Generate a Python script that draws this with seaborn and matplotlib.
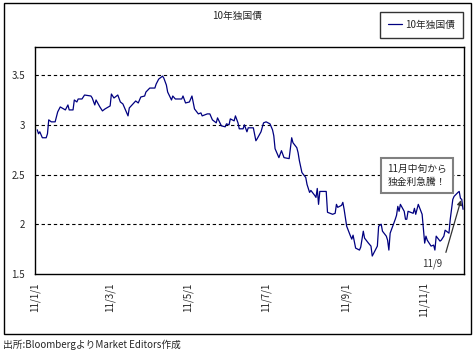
import pandas as pd
import seaborn as sns
import matplotlib.pyplot as plt
import matplotlib.dates as mdates
from matplotlib.patches import Rectangle

# 10年独国債利回り(%) - チャートから読み取り
dates = [
    "2011-01-03", "2011-01-04", "2011-01-05", "2011-01-07", "2011-01-10", "2011-01-11",
    "2011-01-12", "2011-01-14", "2011-01-17", "2011-01-19", "2011-01-21", "2011-01-25",
    "2011-01-27", "2011-01-28", "2011-01-31", "2011-02-01", "2011-02-03", "2011-02-04",
    "2011-02-07", "2011-02-09", "2011-02-14", "2011-02-15", "2011-02-17", "2011-02-18",
    "2011-02-21", "2011-02-23", "2011-02-25", "2011-03-01", "2011-03-02", "2011-03-04",
    "2011-03-07", "2011-03-09", "2011-03-11", "2011-03-15", "2011-03-16", "2011-03-21",
    "2011-03-23", "2011-03-25", "2011-03-28", "2011-03-29", "2011-04-01", "2011-04-05",
    "2011-04-06", "2011-04-08", "2011-04-11", "2011-04-12", "2011-04-14", "2011-04-15",
    "2011-04-18", "2011-04-19", "2011-04-21", "2011-04-26", "2011-04-27", "2011-04-29",
    "2011-05-02", "2011-05-04", "2011-05-06", "2011-05-09", "2011-05-11", "2011-05-12",
    "2011-05-16", "2011-05-18", "2011-05-20", "2011-05-23", "2011-05-24", "2011-05-27",
    "2011-05-30", "2011-05-31", "2011-06-02", "2011-06-03", "2011-06-06", "2011-06-07",
    "2011-06-09", "2011-06-10", "2011-06-13", "2011-06-14", "2011-06-16", "2011-06-17",
    "2011-06-21", "2011-06-23", "2011-06-24", "2011-06-27", "2011-06-29", "2011-07-01",
    "2011-07-04", "2011-07-06", "2011-07-07", "2011-07-08", "2011-07-11", "2011-07-13",
    "2011-07-15", "2011-07-19", "2011-07-21", "2011-07-22", "2011-07-25", "2011-07-26",
    "2011-07-27", "2011-07-29", "2011-08-01", "2011-08-02", "2011-08-04", "2011-08-05",
    "2011-08-08", "2011-08-09", "2011-08-10", "2011-08-11", "2011-08-12", "2011-08-15",
    "2011-08-17", "2011-08-18", "2011-08-22", "2011-08-24", "2011-08-25", "2011-08-26",
    "2011-08-29", "2011-08-30", "2011-08-31", "2011-09-02", "2011-09-05", "2011-09-06",
    "2011-09-07", "2011-09-09", "2011-09-12", "2011-09-13", "2011-09-15", "2011-09-16",
    "2011-09-19", "2011-09-21", "2011-09-22", "2011-09-26", "2011-09-27", "2011-09-29",
    "2011-09-30", "2011-10-03", "2011-10-04", "2011-10-05", "2011-10-06", "2011-10-10",
    "2011-10-11", "2011-10-12", "2011-10-13", "2011-10-14", "2011-10-17", "2011-10-18",
    "2011-10-19", "2011-10-20", "2011-10-24", "2011-10-25", "2011-10-26", "2011-10-28",
    "2011-10-31", "2011-11-01", "2011-11-02", "2011-11-03", "2011-11-04", "2011-11-07",
    "2011-11-09", "2011-11-10", "2011-11-11", "2011-11-14", "2011-11-15", "2011-11-17",
    "2011-11-18", "2011-11-21", "2011-11-22", "2011-11-24", "2011-11-25", "2011-11-28",
    "2011-11-29", "2011-11-30", "2011-12-01", "2011-12-02",
]
yields = [
    2.95, 2.91, 2.93, 2.87, 2.87, 2.91,
    3.05, 3.03, 3.03, 3.13, 3.18, 3.15,
    3.20, 3.15, 3.15, 3.25, 3.23, 3.26,
    3.26, 3.30, 3.29, 3.27, 3.20, 3.25,
    3.18, 3.14, 3.16, 3.19, 3.31, 3.27,
    3.30, 3.23, 3.21, 3.09, 3.17, 3.24,
    3.22, 3.28, 3.29, 3.33, 3.37, 3.37,
    3.41, 3.46, 3.49, 3.47, 3.40, 3.33,
    3.25, 3.29, 3.26, 3.26, 3.29, 3.22,
    3.23, 3.29, 3.16, 3.11, 3.12, 3.09,
    3.11, 3.11, 3.05, 3.02, 3.07, 2.99,
    2.98, 3.01, 3.00, 3.06, 3.04, 3.09,
    3.02, 2.96, 2.96, 3.00, 2.93, 2.97,
    2.97, 2.84, 2.86, 2.93, 3.02, 3.03,
    3.01, 2.95, 2.89, 2.76, 2.67, 2.74,
    2.67, 2.66, 2.87, 2.82, 2.77, 2.72,
    2.64, 2.52, 2.47, 2.40, 2.32, 2.34,
    2.29, 2.27, 2.36, 2.20, 2.33, 2.33,
    2.33, 2.12, 2.10, 2.11, 2.20, 2.17,
    2.19, 2.22, 2.15, 1.98, 1.88, 1.85,
    1.89, 1.76, 1.74, 1.77, 1.93, 1.86,
    1.81, 1.78, 1.68, 1.78, 1.98, 2.00,
    1.93, 1.88, 1.84, 1.74, 1.91, 2.05,
    2.09, 2.18, 2.13, 2.20, 2.13, 2.05,
    2.05, 2.13, 2.11, 2.16, 2.10, 2.20,
    2.10, 1.96, 1.81, 1.88, 1.84, 1.78,
    1.79, 1.74, 1.88, 1.83, 1.84, 1.88,
    1.94, 1.91, 2.05, 2.25, 2.28, 2.32,
    2.33, 2.26, 2.25, 2.15,
]
y_ticks = [1.5, 2, 2.5, 3, 3.5]
x_ticks = ["2011-01-01", "2011-03-01", "2011-05-01", "2011-07-01", "2011-09-01", "2011-11-01"]

df = pd.DataFrame({"date": pd.to_datetime(dates), "10年独国債": yields})

sns.set_style("white")
plt.rcParams["font.family"] = ["Noto Sans CJK JP", "DejaVu Sans"]

fig = plt.figure(figsize=(4.75, 3.53), dpi=100)
ax = fig.add_axes([0.073, 0.224, 0.9045, 0.642])

sns.lineplot(data=df, x="date", y="10年独国債", color="#000080", linewidth=0.9,
             label="10年独国債", ax=ax)

ax.set_ylim(1.5, 3.78)
ax.set_xlim(pd.Timestamp("2011-01-01"), pd.Timestamp("2011-12-03"))
ax.set_yticks(y_ticks)
ax.set_yticklabels(["1.5", "2", "2.5", "3", "3.5"], fontsize=7)
ax.set_xticks(pd.to_datetime(x_ticks))
ax.xaxis.set_major_formatter(mdates.DateFormatter("%y/%-m/%-d"))
ax.tick_params(axis="x", direction="in", length=3, labelsize=7, labelrotation=90, pad=6)
ax.tick_params(axis="y", direction="out", length=3, labelsize=7, pad=4)
for t in y_ticks[1:]:
    ax.axhline(t, color="black", linewidth=0.8, linestyle=(0, (3, 2.5)), zorder=0)
for s in ax.spines.values():
    s.set_color("black")
    s.set_linewidth(1)
ax.set_xlabel("")
ax.set_ylabel("")

leg = ax.legend(loc="upper left", bbox_to_anchor=(0.80, 0.966), bbox_transform=fig.transFigure,
                fontsize=7, frameon=True, fancybox=False, edgecolor="black",
                handlelength=1.5, handletextpad=0.3, borderpad=0.8, borderaxespad=0)
leg.get_frame().set_linewidth(1)

ax.annotate("", xy=(pd.Timestamp("2011-12-01"), 2.27), xytext=(pd.Timestamp("2011-11-18"), 1.69),
            arrowprops=dict(arrowstyle="-|>", color="#333333", lw=0.9, mutation_scale=7))
ax.text(pd.Timestamp("2011-11-08"), 1.60, "11/9", fontsize=7, color="#333333", ha="center", va="center")
ax.text(pd.Timestamp("2011-10-27"), 2.49, "11月中旬から\n独金利急騰！", fontsize=7, ha="center", va="center",
        linespacing=1.4,
        bbox=dict(boxstyle="square,pad=0.6", facecolor="white", edgecolor="#808080", linewidth=1.5))

fig.text(0.5, 0.955, "10年独国債", fontsize=7, ha="center", va="center")
fig.text(0.006, 0.023, "出所:BloombergよりMarket Editors作成", fontsize=7, ha="left", va="center")
fig.patches.append(Rectangle((0.0085, 0.054), 0.983, 0.937, transform=fig.transFigure,
                             fill=False, edgecolor="black", linewidth=1))

fig.savefig("out.png", dpi=100)
